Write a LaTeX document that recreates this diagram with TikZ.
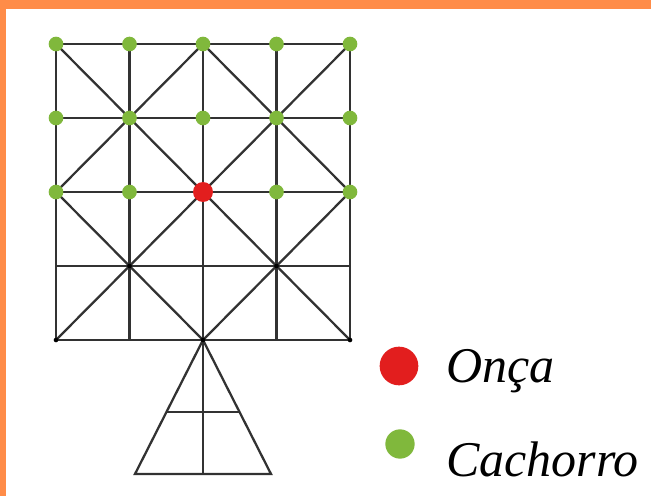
\documentclass[tikz,border=0pt]{standalone}
\usepackage{fontspec}
\setmainfont{Liberation Serif}
\definecolor{frame}{RGB}{255,140,72}
\definecolor{dog}{RGB}{128,184,60}
\definecolor{jag}{RGB}{226,30,30}
\definecolor{ln}{RGB}{50,50,50}
\begin{document}
\begin{tikzpicture}[x=0.75pt,y=-0.75pt,
  board/.style={draw=ln,line width=1.7pt},
  dogdot/.style={circle,fill=dog,inner sep=0pt,minimum size=11pt},
  jagdot/.style={circle,fill=jag,inner sep=0pt,minimum size=15pt},
  pin/.style={circle,fill=black,inner sep=0pt,minimum size=3.5pt},
  legtext/.style={anchor=base west,font=\itshape\fontsize{37.5}{40}\selectfont,inner sep=0pt}]
\fill[frame] (0,0) rectangle (651,496);
\fill[white] (6,9) rectangle (651,496);
\useasboundingbox (0,0) rectangle (651,496);
% grid coordinates
\foreach \i/\x in {0/56,1/129.5,2/203,3/276.5,4/350}{
  \foreach \j/\y in {0/44,1/118,2/192,3/266,4/340}{
    \coordinate (p\i\j) at (\x,\y);
  }
}
\coordinate (t1) at (135,474);
\coordinate (t2) at (271,474);
\coordinate (tm) at (203,474);
\coordinate (m1) at (167,412);
\coordinate (m2) at (239,412);
% grid lines
\foreach \k in {0,...,4}{
  \draw[board] (p0\k) -- (p4\k);
  \draw[board] (p\k0) -- (p\k4);
}
% diagonals
\draw[board] (p00) -- (p44);
\draw[board] (p40) -- (p04);
\draw[board] (p20) -- (p42) -- (p24) -- (p02) -- cycle;
% triangle
\draw[board] (p24) -- (t1) -- (t2) -- cycle;
\draw[board] (p24) -- (tm);
\draw[board] (m1) -- (m2);
% small pins
\foreach \p in {p13,p33,p24,p04,p44}{\node[pin] at (\p) {};}
% pieces
\foreach \i in {0,...,4}{
  \foreach \j in {0,1,2}{
    \node[dogdot] (d\i\j) at (p\i\j) {};
  }
}
\node[jagdot] (jag) at (p22) {};
% legend
\node[circle,fill=jag,inner sep=0pt,minimum size=29pt] (lj) at (399,366) {};
\node[circle,fill=dog,inner sep=0pt,minimum size=22pt] (ld) at (400,444) {};
\node[legtext] (lo) at (446,382) {Onça};
\node[legtext] (lc) at (446,476) {Cachorro};
\end{tikzpicture}
\end{document}
